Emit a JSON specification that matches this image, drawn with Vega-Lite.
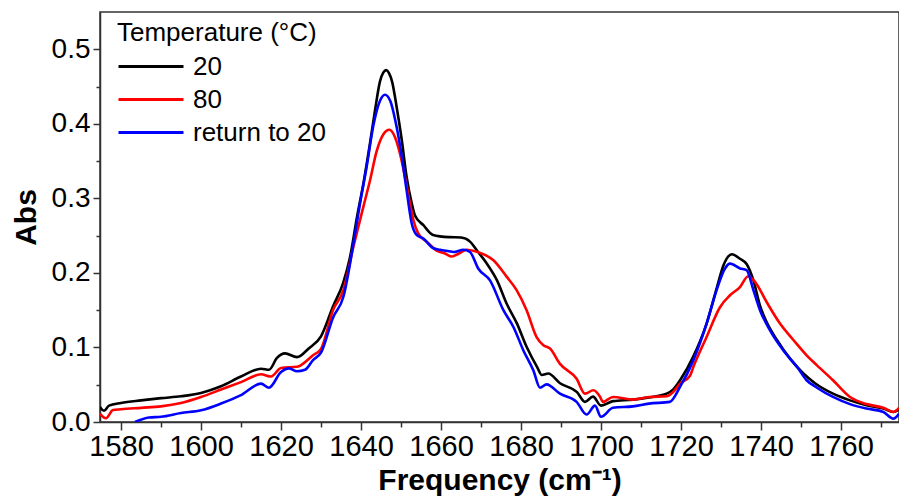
{
  "$schema": "https://vega.github.io/schema/vega-lite/v6.json",
  "width": 799,
  "height": 410,
  "autosize": {"type": "none"},
  "padding": {"left": 100, "top": 12, "right": 0, "bottom": 81},
  "background": "white",
  "config": {
    "font": "Liberation Sans",
    "view": {"stroke": "#333333", "strokeWidth": 1.5}
  },
  "datasets": {
    "spectra": [
      {"freq": 1574.75, "abs": 0.020, "temp": "20"},
      {"freq": 1575.75, "abs": 0.015, "temp": "20"},
      {"freq": 1577, "abs": 0.022, "temp": "20"},
      {"freq": 1580, "abs": 0.0255, "temp": "20"},
      {"freq": 1585, "abs": 0.029, "temp": "20"},
      {"freq": 1590, "abs": 0.032, "temp": "20"},
      {"freq": 1595, "abs": 0.0345, "temp": "20"},
      {"freq": 1600, "abs": 0.039, "temp": "20"},
      {"freq": 1605, "abs": 0.048, "temp": "20"},
      {"freq": 1610, "abs": 0.061, "temp": "20"},
      {"freq": 1615, "abs": 0.0715, "temp": "20"},
      {"freq": 1617, "abs": 0.070, "temp": "20"},
      {"freq": 1619, "abs": 0.086, "temp": "20"},
      {"freq": 1621, "abs": 0.092, "temp": "20"},
      {"freq": 1624, "abs": 0.087, "temp": "20"},
      {"freq": 1627, "abs": 0.099, "temp": "20"},
      {"freq": 1630, "abs": 0.115, "temp": "20"},
      {"freq": 1633, "abs": 0.155, "temp": "20"},
      {"freq": 1635.5, "abs": 0.186, "temp": "20"},
      {"freq": 1637.25, "abs": 0.221, "temp": "20"},
      {"freq": 1639, "abs": 0.275, "temp": "20"},
      {"freq": 1640.6, "abs": 0.32, "temp": "20"},
      {"freq": 1642.25, "abs": 0.374, "temp": "20"},
      {"freq": 1643.5, "abs": 0.418, "temp": "20"},
      {"freq": 1644.75, "abs": 0.457, "temp": "20"},
      {"freq": 1645.6, "abs": 0.469, "temp": "20"},
      {"freq": 1646.3, "abs": 0.472, "temp": "20"},
      {"freq": 1647, "abs": 0.468, "temp": "20"},
      {"freq": 1647.8, "abs": 0.456, "temp": "20"},
      {"freq": 1648.9, "abs": 0.423, "temp": "20"},
      {"freq": 1650.2, "abs": 0.378, "temp": "20"},
      {"freq": 1651.4, "abs": 0.329, "temp": "20"},
      {"freq": 1652.7, "abs": 0.293, "temp": "20"},
      {"freq": 1653.5, "abs": 0.277, "temp": "20"},
      {"freq": 1655.6, "abs": 0.264, "temp": "20"},
      {"freq": 1658, "abs": 0.251, "temp": "20"},
      {"freq": 1662, "abs": 0.248, "temp": "20"},
      {"freq": 1665, "abs": 0.2475, "temp": "20"},
      {"freq": 1667.25, "abs": 0.242, "temp": "20"},
      {"freq": 1669, "abs": 0.230, "temp": "20"},
      {"freq": 1671.4, "abs": 0.213, "temp": "20"},
      {"freq": 1674, "abs": 0.190, "temp": "20"},
      {"freq": 1676.4, "abs": 0.159, "temp": "20"},
      {"freq": 1679, "abs": 0.132, "temp": "20"},
      {"freq": 1681.4, "abs": 0.101, "temp": "20"},
      {"freq": 1684, "abs": 0.074, "temp": "20"},
      {"freq": 1685.2, "abs": 0.063, "temp": "20"},
      {"freq": 1686.8, "abs": 0.065, "temp": "20"},
      {"freq": 1689.75, "abs": 0.052, "temp": "20"},
      {"freq": 1694, "abs": 0.040, "temp": "20"},
      {"freq": 1696, "abs": 0.027, "temp": "20"},
      {"freq": 1698, "abs": 0.034, "temp": "20"},
      {"freq": 1700, "abs": 0.022, "temp": "20"},
      {"freq": 1703, "abs": 0.028, "temp": "20"},
      {"freq": 1708, "abs": 0.030, "temp": "20"},
      {"freq": 1712, "abs": 0.033, "temp": "20"},
      {"freq": 1716.4, "abs": 0.038, "temp": "20"},
      {"freq": 1718, "abs": 0.0435, "temp": "20"},
      {"freq": 1720, "abs": 0.058, "temp": "20"},
      {"freq": 1723, "abs": 0.087, "temp": "20"},
      {"freq": 1726.4, "abs": 0.132, "temp": "20"},
      {"freq": 1729, "abs": 0.181, "temp": "20"},
      {"freq": 1730.6, "abs": 0.210, "temp": "20"},
      {"freq": 1731.8, "abs": 0.222, "temp": "20"},
      {"freq": 1732.7, "abs": 0.225, "temp": "20"},
      {"freq": 1734.75, "abs": 0.219, "temp": "20"},
      {"freq": 1736.4, "abs": 0.212, "temp": "20"},
      {"freq": 1738.1, "abs": 0.190, "temp": "20"},
      {"freq": 1739.75, "abs": 0.156, "temp": "20"},
      {"freq": 1741.4, "abs": 0.134, "temp": "20"},
      {"freq": 1744, "abs": 0.110, "temp": "20"},
      {"freq": 1747.25, "abs": 0.085, "temp": "20"},
      {"freq": 1750.6, "abs": 0.065, "temp": "20"},
      {"freq": 1753.5, "abs": 0.052, "temp": "20"},
      {"freq": 1758, "abs": 0.038, "temp": "20"},
      {"freq": 1762.25, "abs": 0.029, "temp": "20"},
      {"freq": 1766.4, "abs": 0.0224, "temp": "20"},
      {"freq": 1770.6, "abs": 0.018, "temp": "20"},
      {"freq": 1773.1, "abs": 0.0134, "temp": "20"},
      {"freq": 1774.5, "abs": 0.017, "temp": "20"},

      {"freq": 1574.75, "abs": 0.011, "temp": "80"},
      {"freq": 1576.25, "abs": 0.005, "temp": "80"},
      {"freq": 1578, "abs": 0.016, "temp": "80"},
      {"freq": 1580, "abs": 0.017, "temp": "80"},
      {"freq": 1585, "abs": 0.019, "temp": "80"},
      {"freq": 1590, "abs": 0.021, "temp": "80"},
      {"freq": 1595, "abs": 0.0255, "temp": "80"},
      {"freq": 1600, "abs": 0.0335, "temp": "80"},
      {"freq": 1605, "abs": 0.0435, "temp": "80"},
      {"freq": 1610, "abs": 0.0535, "temp": "80"},
      {"freq": 1615, "abs": 0.064, "temp": "80"},
      {"freq": 1617.5, "abs": 0.061, "temp": "80"},
      {"freq": 1620, "abs": 0.0725, "temp": "80"},
      {"freq": 1624, "abs": 0.074, "temp": "80"},
      {"freq": 1628, "abs": 0.0895, "temp": "80"},
      {"freq": 1630, "abs": 0.098, "temp": "80"},
      {"freq": 1633, "abs": 0.150, "temp": "80"},
      {"freq": 1635.6, "abs": 0.177, "temp": "80"},
      {"freq": 1638.1, "abs": 0.235, "temp": "80"},
      {"freq": 1640.6, "abs": 0.289, "temp": "80"},
      {"freq": 1642.25, "abs": 0.324, "temp": "80"},
      {"freq": 1643.9, "abs": 0.363, "temp": "80"},
      {"freq": 1645.6, "abs": 0.386, "temp": "80"},
      {"freq": 1647.1, "abs": 0.392, "temp": "80"},
      {"freq": 1648.5, "abs": 0.382, "temp": "80"},
      {"freq": 1649.75, "abs": 0.360, "temp": "80"},
      {"freq": 1651, "abs": 0.329, "temp": "80"},
      {"freq": 1652.25, "abs": 0.293, "temp": "80"},
      {"freq": 1653.1, "abs": 0.271, "temp": "80"},
      {"freq": 1654.3, "abs": 0.253, "temp": "80"},
      {"freq": 1656.4, "abs": 0.242, "temp": "80"},
      {"freq": 1658.9, "abs": 0.230, "temp": "80"},
      {"freq": 1661, "abs": 0.226, "temp": "80"},
      {"freq": 1662.7, "abs": 0.222, "temp": "80"},
      {"freq": 1664.5, "abs": 0.226, "temp": "80"},
      {"freq": 1666.4, "abs": 0.231, "temp": "80"},
      {"freq": 1668.5, "abs": 0.229, "temp": "80"},
      {"freq": 1670.6, "abs": 0.225, "temp": "80"},
      {"freq": 1673.1, "abs": 0.217, "temp": "80"},
      {"freq": 1676.4, "abs": 0.195, "temp": "80"},
      {"freq": 1678.9, "abs": 0.177, "temp": "80"},
      {"freq": 1681.4, "abs": 0.150, "temp": "80"},
      {"freq": 1683.9, "abs": 0.114, "temp": "80"},
      {"freq": 1685.6, "abs": 0.103, "temp": "80"},
      {"freq": 1687.25, "abs": 0.0985, "temp": "80"},
      {"freq": 1689.75, "abs": 0.078, "temp": "80"},
      {"freq": 1693.9, "abs": 0.058, "temp": "80"},
      {"freq": 1696, "abs": 0.038, "temp": "80"},
      {"freq": 1698.1, "abs": 0.0425, "temp": "80"},
      {"freq": 1699.75, "abs": 0.034, "temp": "80"},
      {"freq": 1700.5, "abs": 0.027, "temp": "80"},
      {"freq": 1703, "abs": 0.0336, "temp": "80"},
      {"freq": 1708, "abs": 0.030, "temp": "80"},
      {"freq": 1712, "abs": 0.0336, "temp": "80"},
      {"freq": 1716.4, "abs": 0.0345, "temp": "80"},
      {"freq": 1718, "abs": 0.040, "temp": "80"},
      {"freq": 1719.75, "abs": 0.0515, "temp": "80"},
      {"freq": 1722.25, "abs": 0.062, "temp": "80"},
      {"freq": 1723.1, "abs": 0.074, "temp": "80"},
      {"freq": 1726.4, "abs": 0.114, "temp": "80"},
      {"freq": 1729.75, "abs": 0.154, "temp": "80"},
      {"freq": 1732.25, "abs": 0.170, "temp": "80"},
      {"freq": 1734.75, "abs": 0.181, "temp": "80"},
      {"freq": 1736.8, "abs": 0.1956, "temp": "80"},
      {"freq": 1738.5, "abs": 0.188, "temp": "80"},
      {"freq": 1741.4, "abs": 0.161, "temp": "80"},
      {"freq": 1744.75, "abs": 0.132, "temp": "80"},
      {"freq": 1748.1, "abs": 0.110, "temp": "80"},
      {"freq": 1751.4, "abs": 0.0895, "temp": "80"},
      {"freq": 1754, "abs": 0.076, "temp": "80"},
      {"freq": 1758, "abs": 0.056, "temp": "80"},
      {"freq": 1762.25, "abs": 0.0336, "temp": "80"},
      {"freq": 1766.4, "abs": 0.024, "temp": "80"},
      {"freq": 1770.6, "abs": 0.019, "temp": "80"},
      {"freq": 1773.1, "abs": 0.0134, "temp": "80"},
      {"freq": 1774.5, "abs": 0.019, "temp": "80"},

      {"freq": 1583.5, "abs": 0.0, "temp": "return to 20"},
      {"freq": 1587, "abs": 0.006, "temp": "return to 20"},
      {"freq": 1590, "abs": 0.007, "temp": "return to 20"},
      {"freq": 1595, "abs": 0.012, "temp": "return to 20"},
      {"freq": 1600, "abs": 0.0157, "temp": "return to 20"},
      {"freq": 1605, "abs": 0.0247, "temp": "return to 20"},
      {"freq": 1610, "abs": 0.036, "temp": "return to 20"},
      {"freq": 1615, "abs": 0.0515, "temp": "return to 20"},
      {"freq": 1617, "abs": 0.046, "temp": "return to 20"},
      {"freq": 1620, "abs": 0.067, "temp": "return to 20"},
      {"freq": 1622, "abs": 0.072, "temp": "return to 20"},
      {"freq": 1624, "abs": 0.068, "temp": "return to 20"},
      {"freq": 1626, "abs": 0.070, "temp": "return to 20"},
      {"freq": 1628, "abs": 0.083, "temp": "return to 20"},
      {"freq": 1630, "abs": 0.093, "temp": "return to 20"},
      {"freq": 1633, "abs": 0.140, "temp": "return to 20"},
      {"freq": 1635.6, "abs": 0.168, "temp": "return to 20"},
      {"freq": 1638.1, "abs": 0.239, "temp": "return to 20"},
      {"freq": 1639.75, "abs": 0.293, "temp": "return to 20"},
      {"freq": 1641.4, "abs": 0.342, "temp": "return to 20"},
      {"freq": 1643.1, "abs": 0.398, "temp": "return to 20"},
      {"freq": 1644.75, "abs": 0.431, "temp": "return to 20"},
      {"freq": 1646, "abs": 0.439, "temp": "return to 20"},
      {"freq": 1647.3, "abs": 0.431, "temp": "return to 20"},
      {"freq": 1648.9, "abs": 0.396, "temp": "return to 20"},
      {"freq": 1650.2, "abs": 0.356, "temp": "return to 20"},
      {"freq": 1651.4, "abs": 0.311, "temp": "return to 20"},
      {"freq": 1652.7, "abs": 0.266, "temp": "return to 20"},
      {"freq": 1653.9, "abs": 0.251, "temp": "return to 20"},
      {"freq": 1655.6, "abs": 0.246, "temp": "return to 20"},
      {"freq": 1658.1, "abs": 0.233, "temp": "return to 20"},
      {"freq": 1659.75, "abs": 0.231, "temp": "return to 20"},
      {"freq": 1662, "abs": 0.229, "temp": "return to 20"},
      {"freq": 1663.1, "abs": 0.228, "temp": "return to 20"},
      {"freq": 1665.6, "abs": 0.231, "temp": "return to 20"},
      {"freq": 1667.25, "abs": 0.228, "temp": "return to 20"},
      {"freq": 1669.3, "abs": 0.206, "temp": "return to 20"},
      {"freq": 1672.25, "abs": 0.190, "temp": "return to 20"},
      {"freq": 1675.6, "abs": 0.150, "temp": "return to 20"},
      {"freq": 1678.1, "abs": 0.1275, "temp": "return to 20"},
      {"freq": 1680.6, "abs": 0.096, "temp": "return to 20"},
      {"freq": 1683.1, "abs": 0.069, "temp": "return to 20"},
      {"freq": 1684.75, "abs": 0.046, "temp": "return to 20"},
      {"freq": 1686.4, "abs": 0.0505, "temp": "return to 20"},
      {"freq": 1689.75, "abs": 0.038, "temp": "return to 20"},
      {"freq": 1693.9, "abs": 0.027, "temp": "return to 20"},
      {"freq": 1696.4, "abs": 0.010, "temp": "return to 20"},
      {"freq": 1698.5, "abs": 0.022, "temp": "return to 20"},
      {"freq": 1700, "abs": 0.007, "temp": "return to 20"},
      {"freq": 1703, "abs": 0.019, "temp": "return to 20"},
      {"freq": 1708, "abs": 0.021, "temp": "return to 20"},
      {"freq": 1712, "abs": 0.0247, "temp": "return to 20"},
      {"freq": 1717.2, "abs": 0.027, "temp": "return to 20"},
      {"freq": 1719.75, "abs": 0.047, "temp": "return to 20"},
      {"freq": 1723.1, "abs": 0.083, "temp": "return to 20"},
      {"freq": 1726.4, "abs": 0.132, "temp": "return to 20"},
      {"freq": 1728.9, "abs": 0.177, "temp": "return to 20"},
      {"freq": 1731, "abs": 0.206, "temp": "return to 20"},
      {"freq": 1732.25, "abs": 0.2125, "temp": "return to 20"},
      {"freq": 1734.75, "abs": 0.206, "temp": "return to 20"},
      {"freq": 1736.4, "abs": 0.2036, "temp": "return to 20"},
      {"freq": 1738.1, "abs": 0.177, "temp": "return to 20"},
      {"freq": 1739.75, "abs": 0.150, "temp": "return to 20"},
      {"freq": 1742.25, "abs": 0.123, "temp": "return to 20"},
      {"freq": 1745.6, "abs": 0.096, "temp": "return to 20"},
      {"freq": 1749, "abs": 0.074, "temp": "return to 20"},
      {"freq": 1751.4, "abs": 0.056, "temp": "return to 20"},
      {"freq": 1754, "abs": 0.046, "temp": "return to 20"},
      {"freq": 1758, "abs": 0.0336, "temp": "return to 20"},
      {"freq": 1762.25, "abs": 0.024, "temp": "return to 20"},
      {"freq": 1766.4, "abs": 0.018, "temp": "return to 20"},
      {"freq": 1770.6, "abs": 0.0134, "temp": "return to 20"},
      {"freq": 1773.1, "abs": 0.0045, "temp": "return to 20"},
      {"freq": 1774.5, "abs": 0.011, "temp": "return to 20"}
    ]
  },
  "data": {"name": "spectra"},
  "mark": {"type": "line", "strokeWidth": 2.6, "clip": true, "interpolate": "monotone"},
  "encoding": {
    "x": {
      "field": "freq",
      "type": "quantitative",
      "scale": {"domain": [1574.75, 1774.5], "nice": false, "zero": false},
      "axis": {
        "title": "Frequency (cm⁻¹)",
        "titleFontSize": 30,
        "titleFontWeight": "bold",
        "titleColor": "#000000",
        "titlePadding": 4,
        "values": [1580, 1590, 1600, 1610, 1620, 1630, 1640, 1650, 1660, 1670, 1680, 1690, 1700, 1710, 1720, 1730, 1740, 1750, 1760, 1770],
        "labelExpr": "datum.value % 20 == 0 ? datum.label : ''",
        "format": "d",
        "labelFontSize": 29,
        "labelColor": "#000000",
        "labelPadding": 2,
        "labelFlush": false,
        "labelOverlap": false,
        "tickSize": {"condition": {"test": "datum.value % 20 == 0", "value": 8}, "value": 5},
        "tickColor": "#333333",
        "tickWidth": 1.5,
        "domainColor": "#333333",
        "domainWidth": 1.5,
        "grid": false
      }
    },
    "y": {
      "field": "abs",
      "type": "quantitative",
      "scale": {"domain": [0, 0.55], "nice": false},
      "axis": {
        "title": "Abs",
        "titleFontSize": 30,
        "titleFontWeight": "bold",
        "titleColor": "#000000",
        "titlePadding": 10,
        "values": [0, 0.05, 0.1, 0.15, 0.2, 0.25, 0.3, 0.35, 0.4, 0.45, 0.5],
        "labelExpr": "abs(datum.value * 10 - round(datum.value * 10)) < 0.001 ? format(datum.value, '.1f') : ''",
        "labelFontSize": 28,
        "labelColor": "#000000",
        "labelPadding": 3,
        "labelFlush": false,
        "labelOverlap": false,
        "tickSize": {"condition": {"test": "abs(datum.value * 10 - round(datum.value * 10)) < 0.001", "value": 7}, "value": 4},
        "tickColor": "#333333",
        "tickWidth": 1.5,
        "domainColor": "#333333",
        "domainWidth": 1.5,
        "grid": false
      }
    },
    "color": {
      "field": "temp",
      "type": "nominal",
      "scale": {"domain": ["20", "80", "return to 20"], "range": ["#000000", "#ff0000", "#0000ff"]},
      "legend": {
        "title": "Temperature (°C)",
        "orient": "none",
        "legendX": 17,
        "legendY": 8,
        "titleFontSize": 26,
        "titleFontWeight": "normal",
        "titleColor": "#000000",
        "titlePadding": 7,
        "titleLimit": 500,
        "labelLimit": 400,
        "labelFontSize": 26,
        "labelColor": "#000000",
        "labelOffset": 8,
        "symbolType": "stroke",
        "symbolSize": 4225,
        "symbolStrokeWidth": 3,
        "clipHeight": 27,
        "rowPadding": 6
      }
    }
  }
}
